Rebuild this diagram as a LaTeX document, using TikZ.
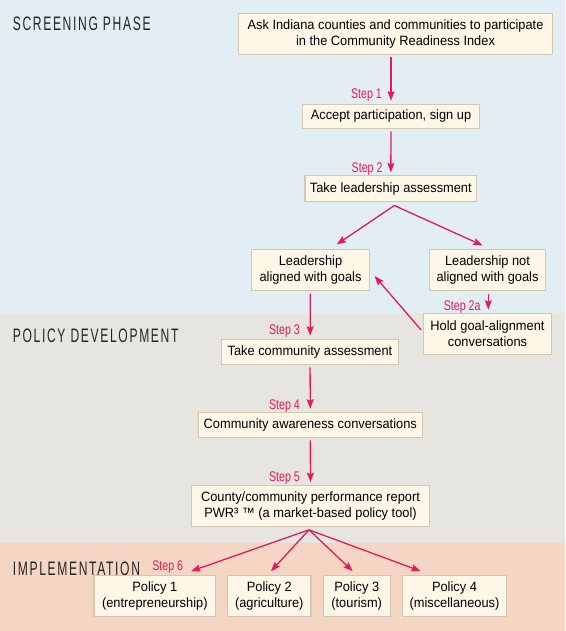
\documentclass[tikz,border=0pt]{standalone}
\usepackage{fontspec}
\setmainfont{Liberation Sans}[FakeStretch=0.95]
\newfontfamily\stepfont{Liberation Sans}[FakeStretch=0.76]
\newfontfamily\phasefont{Liberation Sans}[FakeStretch=0.62,LetterSpace=8.5]
\usepackage{tikz}
\usetikzlibrary{calc,arrows.meta}
\definecolor{bandblue}{HTML}{E3EEF4}
\definecolor{bandgrey}{HTML}{E6E5DF}
\definecolor{bandpeach}{HTML}{F5D6C4}
\definecolor{boxfill}{HTML}{FEF7E8}
\definecolor{boxline}{HTML}{D3C7B1}
\definecolor{steppink}{HTML}{E8195A}

\begin{document}
\begin{tikzpicture}[x=1pt,y=-1pt,
    box/.style={draw=boxline,fill=boxfill,line width=1.1pt,inner sep=0pt,align=center,
      font=\fontsize{13.5}{15.7}\selectfont},
    arr/.style={draw=steppink,line width=1.3pt,-{Stealth[length=9.5pt,width=7pt,inset=1.5pt]}},
    varr/.style={arr,shorten <=2.5pt,shorten >=3pt},
    steplbl/.style={anchor=base east,inner sep=0pt,text=steppink,font=\stepfont\fontsize{14}{15}\selectfont},
    phase/.style={anchor=base west,inner sep=0pt,text=black!85,font=\phasefont\fontsize{19.5}{20}\selectfont}]
    \useasboundingbox (0,0) rectangle (565,631);
    \fill[bandblue] (0,0) rectangle (565,313.3);
    \fill[bandgrey] (0,313.3) rectangle (565,543.3);
    \fill[bandpeach] (0,543.3) rectangle (565,631);
    \node[phase] (screen) at (12.6,30.6) {SCREENING PHASE};
    \node[phase] (policy) at (12.7,342.3) {POLICY DEVELOPMENT};
    \node[phase] (impl) at (12.6,575.8) {IMPLEMENTATION};
    \node[box,minimum width=314.4,minimum height=41] (ask) at (395.5,33.8) {Ask Indiana counties and communities to participate\\in the Community Readiness Index};
    \node[box,minimum width=176.6,minimum height=24] (accept) at (391,116.3) {Accept participation, sign up};
    \node[box,minimum width=171.7,minimum height=25.7] (lead) at (390.8,188.8) {Take leadership assessment};
    \node[box,minimum width=117.6,minimum height=41.4] (aligned) at (310.5,270) {Leadership\\aligned with goals};
    \node[box,minimum width=116.4,minimum height=41.4] (notaligned) at (487.5,270) {Leadership not\\aligned with goals};
    \node[box,minimum width=128.4,minimum height=41] (hold) at (487.5,333.8) {Hold goal-alignment\\conversations};
    \node[box,minimum width=176.6,minimum height=25] (commassess) at (310,351.8) {Take community assessment};
    \node[box,minimum width=224,minimum height=25] (aware) at (310.3,424.8) {Community awareness conversations};
    \node[box,minimum width=237.6,minimum height=41] (report) at (310.5,506.2) {County/community performance report\\PWR³ ™ (a market-based policy tool)};
    \node[box,minimum width=121.7,minimum height=41.4] (pol1) at (154.8,596) {Policy 1\\(entrepreneurship)};
    \node[box,minimum width=83.3,minimum height=41.4] (pol2) at (269.3,596) {Policy 2\\(agriculture)};
    \node[box,minimum width=66.7,minimum height=41.4] (pol3) at (356.7,596) {Policy 3\\(tourism)};
    \node[box,minimum width=103.6,minimum height=41.4] (pol4) at (454.5,596) {Policy 4\\(miscellaneous)};
    \node[steplbl] (st1) at (382,99) {Step 1};
    \node[steplbl] (st2) at (382.7,172.3) {Step 2};
    \node[steplbl] (st2a) at (480.7,310.5) {Step 2a};
    \node[steplbl] (st3) at (300,334.7) {Step 3};
    \node[steplbl] (st4) at (300,409) {Step 4};
    \node[steplbl] (st5) at (300,481.7) {Step 5};
    \node[steplbl] (st6) at (183.3,570.7) {Step 6};
    \draw[varr] (ask.south -| accept.north) -- (accept.north);
    \draw[varr] (accept) -- (lead);
    \draw[arr] ($(lead.south)+(3.5,3.3)$) -- ($(aligned.north)+(26.2,-4.3)$);
    \draw[arr] ($(lead.south)+(3.5,3.3)$) -- ($(notaligned.north)+(-4.8,-3.3)$);
    \draw[varr] (notaligned.south -| 488.3,0) -- (hold.north -| 488.3,0);
    \draw[arr] ($(hold.west)+(-1.6,-3.8)$) -- ($(aligned.east)+(4.7,6)$);
    \draw[varr] (aligned) -- (commassess);
    \draw[varr] (commassess) -- (aware);
    \draw[varr] (aware) -- (report);
    \draw[arr] ($(report.south)+(-1.5,2.6)$) -- ($(pol1.north)+(36.2,-3.6)$);
    \draw[arr] ($(report.south)+(-1.5,2.6)$) -- ($(pol2.north)+(1.7,-3.6)$);
    \draw[arr] ($(report.south)+(-1.5,2.6)$) -- ($(pol3.north)+(-4,-3.6)$);
    \draw[arr] ($(report.south)+(-1.5,2.6)$) -- ($(pol4.north)+(-33.8,-3.6)$);
\end{tikzpicture}
\end{document}
